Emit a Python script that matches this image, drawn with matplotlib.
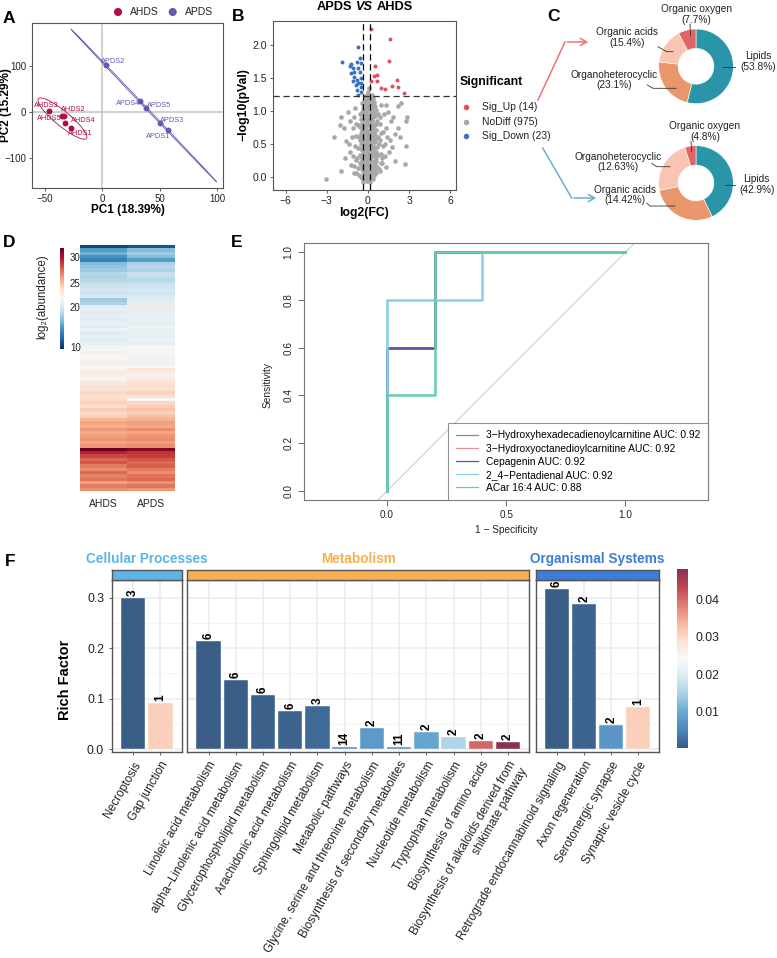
import numpy as np
import matplotlib
matplotlib.use('Agg')
import matplotlib.pyplot as plt
from matplotlib.colors import TwoSlopeNorm, Normalize, ListedColormap
from matplotlib.cm import ScalarMappable
from matplotlib.lines import Line2D

plt.rcParams['font.family'] = ['Liberation Sans', 'DejaVu Sans']
plt.rcParams['axes.unicode_minus'] = True

# ---------------- data ----------------
# A: PCA scores
ahds_names = ['AHDS1', 'AHDS2', 'AHDS3', 'AHDS4', 'AHDS5']
ahds_pc1 = [-27, -33, -46, -32, -35]
ahds_pc2 = [-35, -8, 3, -23, -9]
apds_names = ['APDS1', 'APDS2', 'APDS3', 'APDS4', 'APDS5']
apds_pc1 = [57, 3, 50, 32.5, 38.3]
apds_pc2 = [-40, 101, -23, 23, 9.4]

# B: volcano
up_x = [0.24, 1.61, 1.50, 0.48, 0.68, 0.24, 0.68, 2.14, 1.75, 0.97, 2.18, 2.63, 1.25, 0.45]
up_y = [2.25, 2.09, 1.76, 1.69, 1.55, 1.46, 1.46, 1.47, 1.38, 1.35, 1.37, 1.27, 1.33, 1.53]
down_x = [-0.69, -1.88, -1.27, -0.78, -0.54, -1.09, -0.69, -0.61, -0.98, -1.02, -0.78, -0.54,
          -0.69, -1.09, -0.49, -0.78, -0.54, -0.69, -1.33, -0.61, -1.22, -0.85, -0.49]
down_y = [1.97, 1.74, 1.71, 1.75, 1.73, 1.65, 1.66, 1.60, 1.59, 1.51, 1.47, 1.50,
          1.42, 1.45, 1.36, 1.32, 1.29, 1.25, 1.68, 1.80, 1.58, 1.40, 1.42]
nodiff = [
    (-3.09, -0.03), (-2.44, 0.61), (-1.99, 0.09), (-2.07, 0.79), (-1.97, 0.90), (2.72, 0.19),
    (2.86, 0.90), (2.79, 0.85), (2.79, 0.46), (2.43, 1.12), (2.19, 1.07), (0.97, 1.09),
    (1.34, 1.09), (1.46, 0.99), (2.19, 0.74), (2.31, 0.61), (1.34, 0.74), (1.69, 0.84),
    (1.57, 0.38), (1.21, 0.31), (1.94, 0.23), (-1.46, 0.99), (-1.75, 0.74), (-1.58, 0.54),
    (-1.34, 0.38), (-1.22, 0.18), (-1.68, 0.28), (-1.09, 0.74), (-0.98, 0.90),
    (0.9, 0.55), (1.1, 0.68), (1.25, 0.5), (0.85, 0.9), (1.05, 0.2), (1.4, 0.6), (0.95, 0.35),
    (1.6, 0.55), (1.15, 0.95), (0.8, 0.12), (1.3, 0.15), (1.75, 0.45), (2.0, 0.65), (1.85, 0.9),
    (-0.9, 0.8), (-1.15, 0.6), (-1.3, 0.85), (-0.85, 0.25), (-1.0, 0.05), (-1.4, 0.5), (-0.95, 1.05),
    (-0.62, 0.03), (-0.41, -0.02), (-0.28, 0.06), (-0.15, 0.01), (-0.05, -0.06), (0.07, 0.04),
    (0.18, -0.01), (0.31, 0.07), (0.44, 0.02), (0.12, -0.09), (-0.33, -0.08), (0.58, 0.05),
    (-0.9, 0.06), (0.85, 0.08), (-0.2, 0.1), (0.25, 0.11),
    (-1.05, 0.16), (-0.74, 0.13), (-0.52, 0.18), (-0.36, 0.14), (-0.22, 0.19), (-0.1, 0.15),
    (0.02, 0.2), (0.14, 0.16), (0.27, 0.21), (0.39, 0.14), (0.51, 0.19), (0.66, 0.15),
    (0.92, 0.2), (-0.45, 0.24), (0.08, 0.26),
    (-1.1, 0.31), (-0.83, 0.28), (-0.6, 0.33), (-0.44, 0.29), (-0.31, 0.35), (-0.18, 0.3),
    (-0.06, 0.34), (0.05, 0.29), (0.17, 0.36), (0.3, 0.31), (0.42, 0.35), (0.56, 0.28),
    (0.71, 0.33), (1.0, 0.29), (-0.25, 0.4), (0.23, 0.42),
    (-0.95, 0.46), (-0.7, 0.44), (-0.52, 0.49), (-0.39, 0.45), (-0.27, 0.5), (-0.13, 0.46),
    (-0.01, 0.51), (0.11, 0.45), (0.24, 0.5), (0.37, 0.47), (0.5, 0.52), (0.64, 0.45),
    (0.82, 0.5), (1.1, 0.47), (-0.58, 0.56), (0.31, 0.57),
    (-0.88, 0.62), (-0.63, 0.6), (-0.47, 0.64), (-0.34, 0.59), (-0.2, 0.63), (-0.08, 0.6),
    (0.04, 0.65), (0.16, 0.61), (0.29, 0.66), (0.41, 0.6), (0.55, 0.64), (0.73, 0.61),
    (0.95, 0.66), (-0.41, 0.7), (0.2, 0.72), (0.62, 0.71),
    (-0.75, 0.79), (-0.55, 0.76), (-0.4, 0.81), (-0.27, 0.77), (-0.14, 0.82), (-0.02, 0.78),
    (0.1, 0.83), (0.22, 0.77), (0.35, 0.82), (0.48, 0.79), (0.63, 0.84), (0.86, 0.8),
    (-0.3, 0.88), (0.15, 0.9), (0.5, 0.92),
    (-0.6, 0.96), (-0.45, 0.99), (-0.32, 0.94), (-0.19, 1.0), (-0.06, 0.96), (0.06, 1.01),
    (0.19, 0.95), (0.31, 1.0), (0.44, 0.97), (0.6, 1.02), (0.75, 0.95), (-0.38, 1.05), (0.25, 1.07),
    (-0.42, 1.12), (-0.3, 1.15), (-0.17, 1.1), (-0.04, 1.16), (0.09, 1.12), (0.2, 1.17),
    (0.33, 1.11), (0.46, 1.14), (-0.1, 1.2), (0.12, 1.22), (0.02, 1.29), (0.06, 1.35),
    (-0.35, 0.08), (-0.12, 0.12), (0.0, 0.05), (0.2, 0.07), (0.35, 0.16), (-0.25, 0.22),
    (-0.05, 0.25), (0.12, 0.3), (0.38, 0.24), (-0.38, 0.38), (-0.1, 0.4), (0.08, 0.38),
    (0.36, 0.4), (-0.2, 0.55), (0.0, 0.57), (0.18, 0.55), (0.45, 0.56), (-0.28, 0.68),
    (-0.05, 0.71), (0.1, 0.7), (0.33, 0.73), (-0.18, 0.87), (0.04, 0.88), (0.28, 0.86),
    (-0.12, 1.05), (0.1, 1.06), (0.38, 1.06), (-0.25, 1.22), (0.3, 1.24),
    (-0.5, 0.0), (-0.18, -0.04), (0.02, -0.02), (0.22, 0.02), (0.4, -0.04), (-0.42, 0.11),
    (-0.08, 0.08), (0.1, 0.1), (0.3, 0.12), (0.5, 0.1), (-0.55, 0.2), (-0.3, 0.17),
    (-0.15, 0.23), (0.0, 0.14), (0.2, 0.24), (0.45, 0.22), (0.6, 0.24), (-0.48, 0.31),
    (-0.22, 0.33), (0.0, 0.32), (0.26, 0.36), (0.48, 0.31), (-0.52, 0.42), (-0.32, 0.43),
    (-0.17, 0.38), (0.02, 0.44), (0.16, 0.41), (0.44, 0.43), (0.58, 0.38), (-0.45, 0.52),
    (-0.3, 0.55), (-0.1, 0.52), (0.1, 0.5), (0.27, 0.53), (0.38, 0.52), (0.55, 0.55),
    (-0.5, 0.67), (-0.36, 0.64), (-0.14, 0.66), (0.02, 0.62), (0.24, 0.63), (0.46, 0.67),
    (0.6, 0.6), (-0.46, 0.76), (-0.2, 0.75), (-0.05, 0.84), (0.17, 0.8), (0.4, 0.76),
    (0.56, 0.8), (-0.5, 0.88), (-0.24, 0.92), (-0.1, 0.9), (0.08, 0.94), (0.24, 0.92),
    (0.4, 0.9), (-0.42, 0.95), (-0.27, 1.03), (0.0, 1.04), (0.18, 1.02), (0.5, 1.08),
    (-0.35, 1.1), (-0.22, 1.14), (0.0, 1.1), (0.15, 1.12), (0.28, 1.16), (0.4, 1.2),
    (-0.05, 1.24), (0.2, 1.2),
]
fc_cut = [-0.37, 0.12]
p_cut = 1.23
sig_labels = ['Sig_Up (14)', 'NoDiff (975)', 'Sig_Down (23)']

# C: class composition
up_classes = ['Lipids', 'Organoheterocyclic', 'Organic acids', 'Organic oxygen']
up_share = [53.8, 23.1, 15.4, 7.7]
down_classes = ['Lipids', 'Organic acids', 'Organoheterocyclic', 'Organic oxygen']
down_share = [42.9, 29.0, 23.3, 4.8]

# D: heatmap log2(abundance)
hm_groups = ['AHDS', 'APDS']
hm_ahds = [10.5, 15, 16, 14.5, 13.5, 16.5, 17, 17.5, 18.5, 18,
           18.5, 19, 19.3, 19.6, 19.3, 20, 17.5, 18, 20.5, 21,
           20.5, 21, 20.5, 21, 20.5, 21.5, 20.5, 21, 20.5, 21,
           21.5, 22, 22.5, 22, 21.8, 22.5, 22, 22.3, 22.8, 22.5,
           22.2, 23, 23.5, 23.2, 24, 23.5, 23.8, 24.2, 23.6, 24.5,
           24, 24.3, 25.2, 25.8, 25.5, 26.2, 25.6, 26, 26.4, 25.8,
           26.3, 31.5, 29.5, 28.5, 27.5, 28, 27, 26.5, 27.5, 26.8,
           27.2, 26, 27, 26.5]
hm_apds = [11, 16.5, 17.5, 16.5, 15, 18, 18.5, 18, 19.2, 19,
           18.5, 19.2, 19.5, 19.8, 19.5, 20.2, 20.5, 21, 23, 21,
           21, 20.8, 21.2, 20.8, 21.3, 20.9, 21.2, 20.8, 21.4, 21,
           21.8, 22.2, 21.9, 22.4, 21.7, 22.5, 22, 23.2, 22.6, 22.4,
           23, 23.4, 23.8, 23.5, 24.2, 23.6, 22, 24, 24.4, 24.8,
           24.4, 25, 25.4, 26, 25.7, 26.5, 25.8, 26.3, 26.6, 26,
           26.5, 31, 29, 28.8, 28, 27.5, 27.8, 27, 26.5, 27.3,
           27.6, 26.4, 27.2, 26.2]

# E: ROC curves (1 - specificity, sensitivity)
roc_names = ['3\u2212Hydroxyhexadecadienoylcarnitine', '3\u2212Hydroxyoctanedioylcarnitine',
             'Cepagenin', '2_4\u2212Pentadienal', 'ACar 16:4']
roc_auc = [0.92, 0.92, 0.92, 0.92, 0.88]
roc_fpr = [[0, 0, 0.2, 0.2, 1], [0, 0, 0.2, 0.2, 1], [0, 0, 0.2, 0.2, 1],
           [0, 0, 0.4, 0.4, 1], [0, 0, 0.2, 0.2, 1]]
roc_tpr = [[0, 0.6, 0.6, 1, 1], [0, 0.6, 0.6, 1, 1], [0, 0.6, 0.6, 1, 1],
           [0, 0.8, 0.8, 1, 1], [0, 0.4, 0.4, 1, 1]]

# F: KEGG enrichment
cell_terms = ['Necroptosis', 'Gap junction']
cell_rich = [0.300, 0.092]
cell_count = [3, 1]
cell_p = [0.0008, 0.031]
met_terms = ['Linoleic acid metabolism', 'alpha\u2212Linolenic acid metabolism',
             'Glycerophospholipid metabolism', 'Arachidonic acid metabolism',
             'Sphingolipid metabolism', 'Metabolic pathways',
             'Glycine, serine and threonine metabolism', 'Biosynthesis of secondary metabolites',
             'Nucleotide metabolism', 'Tryptophan metabolism', 'Biosynthesis of amino acids',
             'Biosynthesis of alkaloids derived from\nshikimate pathway']
met_rich = [0.214, 0.137, 0.1075, 0.0765, 0.0864, 0.0046, 0.042, 0.0052, 0.0349, 0.0244, 0.0164, 0.0139]
met_count = [6, 6, 6, 6, 3, 14, 2, 11, 2, 2, 2, 2]
met_p = [0.001, 0.001, 0.0012, 0.0015, 0.002, 0.0065, 0.008, 0.007, 0.0095, 0.0155, 0.0405, 0.0478]
org_terms = ['Retrograde endocannabinoid signaling', 'Axon regeneration',
             'Serotonergic synapse', 'Synaptic vesicle cycle']
org_rich = [0.317, 0.287, 0.048, 0.0838]
org_count = [6, 2, 2, 1]
org_p = [0.0008, 0.0015, 0.0075, 0.031]

# ---------------- figure ----------------
W, H = 777, 958
fig = plt.figure(figsize=(W / 100, H / 100), dpi=100)
TXT = '#222222'


def box(x0, y0, x1, y1):
    # pixel box (top-left origin) -> axes
    return fig.add_axes([x0 / W, 1 - y1 / H, (x1 - x0) / W, (y1 - y0) / H])


def conf_ellipse(x, y, k=3.03, n=200):
    pts = np.column_stack([x, y])
    c = pts.mean(axis=0)
    vals, vecs = np.linalg.eigh(np.cov(pts.T))
    t = np.linspace(0, 2 * np.pi, n)
    e = vecs @ (np.sqrt(np.clip(vals, 0, None))[:, None] * np.vstack([np.cos(t), np.sin(t)])) * k
    return c[0] + e[0], c[1] + e[1]


# ---- A: PCA ----
ax = box(32, 23, 223, 188)
ax.axhline(0, color='#C8C8C8', lw=1.2, zorder=0)
ax.axvline(0, color='#C8C8C8', lw=1.2, zorder=0)
col_ahds, col_apds = '#B0103F', '#6657B5'
ahds_off = [(6.8, -3.6), (6.5, 4.1), (-2.4, 3.4), (12.6, 1.4), (-9.1, -1.4)]
apds_off = [(-7.3, -4.1), (5.5, 3.1), (8.8, 1.4), (-8.5, -1.9), (9.4, 1.2)]
for names, xs, ys, col, offs in [(ahds_names, ahds_pc1, ahds_pc2, col_ahds, ahds_off),
                                 (apds_names, apds_pc1, apds_pc2, col_apds, apds_off)]:
    ex, ey = conf_ellipse(xs, ys)
    ax.plot(ex, ey, color=col, lw=0.6)
    ax.scatter(xs, ys, s=18, color=col, zorder=3, lw=0)
    for nm, x, y, o in zip(names, xs, ys, offs):
        ax.annotate(nm, (x, y), xytext=o, textcoords='offset points', ha='center', va='center',
                    fontsize=5.3, color=col)
ax.set_xlim(-61, 105)
ax.set_ylim(-165, 193)
ax.set_xticks([-50, 0, 50, 100])
ax.set_yticks([-100, 0, 100])
ax.tick_params(labelsize=7, colors='#444444', labelcolor=TXT, length=2.5, width=0.6, pad=1.5)
for s in ax.spines.values():
    s.set_color('#555555')
    s.set_linewidth(0.8)

# ---- B: volcano ----
ax = box(273.3, 21, 455.7, 189.7)
nd = np.array(nodiff).T
ax.scatter(nd[0], nd[1], s=11, color='#A8A8A8', lw=0)
ax.scatter(up_x, up_y, s=8, color='#E2505C', lw=0)
ax.scatter(down_x, down_y, s=8, color='#3A72C0', lw=0)
for v in fc_cut:
    ax.axvline(v, color='black', lw=0.9, ls=(0, (5, 3)))
ax.axhline(p_cut, color='#333333', lw=0.9, ls=(0, (5, 3)))
ax.set_xlim(-6.9, 6.4)
ax.set_ylim(-0.2, 2.37)
ax.set_xticks([-6, -3, 0, 3, 6])
ax.set_yticks([0, 0.5, 1.0, 1.5, 2.0])
ax.tick_params(labelsize=7.5, colors='#444444', labelcolor=TXT, length=2.5, width=0.6, pad=2)
for s in ax.spines.values():
    s.set_color('#555555')
    s.set_linewidth(0.8)

# ---- C: donuts ----
donut_cols = ['#2A94A8', '#E8976C', '#F8C5B2', '#E46466']
for cy, share in [(66.3, up_share), (183, down_share)]:
    axd = box(696 - 37.3, cy - 37.3, 696 + 37.3, cy + 37.3)
    axd.pie(share, colors=donut_cols, startangle=90, counterclock=False, radius=1,
            wedgeprops=dict(width=0.52, edgecolor='white', linewidth=0.4))
    axd.set_xlim(-1, 1)
    axd.set_ylim(-1, 1)

# ---- D: heatmap ----
axh = box(80, 245, 175, 491)
hm_norm = TwoSlopeNorm(vmin=9.4, vcenter=22, vmax=31.7)
axh.imshow(np.column_stack([hm_ahds, hm_apds]), aspect='auto', cmap='RdBu_r', norm=hm_norm,
           interpolation='nearest')
axh.set_xticks([0, 1])
axh.set_xticklabels(hm_groups, fontsize=7.5, color=TXT)
axh.set_yticks([])
axh.tick_params(length=0, pad=6)
for s in axh.spines.values():
    s.set_visible(False)
cax = box(60, 248, 64.3, 349)
cb = fig.colorbar(ScalarMappable(norm=hm_norm, cmap='RdBu_r'), cax=cax, ticks=[10, 20, 25, 30])
cb.outline.set_visible(False)
cax.tick_params(labelsize=7, length=2, color='white', labelcolor=TXT, pad=2)

# ---- E: ROC ----
axe = box(303.7, 242.7, 708, 500)
roc_cols = ['#8C8C8C', '#F0909A', '#5E50A8', '#87CEEB', '#66CDAA']
axe.axline((0, 0), (1, 1), color='#C8C8C8', lw=0.7)
for fx, ty, c in zip(roc_fpr, roc_tpr, roc_cols):
    axe.plot(fx, ty, color=c, lw=1.8)
axe.set_xlim(-0.35, 1.347)
axe.set_ylim(-0.038, 1.04)
axe.set_xticks([0, 0.5, 1.0])
axe.set_yticks([0, 0.2, 0.4, 0.6, 0.8, 1.0])
axe.set_yticklabels(['0.0', '0.2', '0.4', '0.6', '0.8', '1.0'], rotation=90, va='center')
axe.tick_params(labelsize=7.2, colors='#555555', labelcolor=TXT, length=4, width=0.6)
for s in axe.spines.values():
    s.set_color('#777777')
    s.set_linewidth(0.8)
handles = [Line2D([], [], color=c, lw=0.9) for c in roc_cols]
leg = axe.legend(handles, [f'{n} AUC: {a:.2f}' for n, a in zip(roc_names, roc_auc)],
                 loc='lower right', bbox_to_anchor=(1, 0), borderaxespad=0, fontsize=7.4,
                 frameon=True, fancybox=False, edgecolor='#777777', handlelength=2.2,
                 labelspacing=0.3, borderpad=0.7)
leg.get_frame().set_linewidth(0.8)

# ---- F: enrichment ----
base = plt.get_cmap('RdBu_r')(np.linspace(0, 1, 256))
base[:, :3] = base[:, :3] * 0.8 + 0.2
rich_cmap = ListedColormap(base)
p_norm = Normalize(vmin=0.0003, vmax=0.048)
facets = [
    ('Cellular Processes', '#5DB5E6', cell_terms, cell_rich, cell_count, cell_p, 111.7, 181.7),
    ('Metabolism', '#F9AE50', met_terms, met_rich, met_count, met_p, 187.3, 529.3),
    ('Organismal Systems', '#3B7DD8', org_terms, org_rich, org_count, org_p, 536, 659.3),
]
for k, (title, scol, terms, rich, cnt, pv, x0, x1) in enumerate(facets):
    axf = box(x0, 580, x1, 752.3)
    n = len(terms)
    pos = np.arange(n)
    axf.set_axisbelow(True)
    axf.bar(pos, rich, width=0.9, color=rich_cmap(p_norm(np.array(pv))), edgecolor='white', lw=0.3)
    for i, (r, c) in enumerate(zip(rich, cnt)):
        axf.text(i, r + 0.004, str(c), rotation=90, ha='center', va='bottom',
                 fontsize=8.5, fontweight='bold', color='black')
    axf.set_xlim(-0.78, n - 0.22)
    axf.set_ylim(-0.006, 0.335)
    axf.set_yticks([0, 0.1, 0.2, 0.3])
    axf.set_yticks([0.05, 0.15, 0.25], minor=True)
    axf.grid(True, which='major', color='#EBEBEB', lw=1.1)
    axf.grid(True, which='minor', axis='y', color='#F2F2F2', lw=0.6)
    axf.set_xticks(pos)
    axf.set_xticklabels(terms, rotation=60, ha='right', va='top', rotation_mode='anchor',
                        fontsize=8.6, color=TXT)
    axf.tick_params(axis='x', length=2, width=0.6, color='#444444', pad=3)
    axf.tick_params(axis='y', which='minor', length=0)
    if k == 0:
        axf.set_yticklabels(['0.0', '0.1', '0.2', '0.3'])
        axf.tick_params(axis='y', labelsize=8.8, labelcolor=TXT, length=2, width=0.6, color='#444444')
    else:
        axf.tick_params(axis='y', labelleft=False, length=0)
    for s in axf.spines.values():
        s.set_color('#555555')
        s.set_linewidth(1.0)
    st = box(x0, 570, x1, 580)
    st.set_facecolor(scol)
    st.set_xticks([])
    st.set_yticks([])
    for s in st.spines.values():
        s.set_color('#555555')
        s.set_linewidth(1.0)
    fig.text(((x0 + x1) / 2) / W, 1 - 559 / H, title, ha='center', va='center',
             fontsize=9.8, fontweight='bold', color=scol)

cfx = box(676.7, 569.3, 688.3, 748.3)
cbf = fig.colorbar(ScalarMappable(norm=p_norm, cmap=rich_cmap), cax=cfx,
                   ticks=[0.01, 0.02, 0.03, 0.04])
cbf.outline.set_visible(False)
cfx.set_yticklabels(['0.01', '0.02', '0.03', '0.04'])
cfx.tick_params(labelsize=8.8, length=2.5, color='white', labelcolor=TXT, pad=3)

# ---- overlay: panel letters, titles, legends, annotations ----
ov = fig.add_axes([0, 0, 1, 1])
ov.set_xlim(0, W)
ov.set_ylim(H, 0)
ov.axis('off')

for lab, x, y in [('A', 9, 18), ('B', 238, 16), ('C', 554, 16), ('D', 9, 242), ('E', 237, 242), ('F', 10, 562)]:
    ov.text(x, y, lab, fontsize=12.5, fontweight='bold', ha='center', va='center')

# A legend + labels
ov.scatter([118, 172.7], [12, 12], s=34, color=[col_ahds, col_apds], lw=0)
ov.text(130, 12, 'AHDS', fontsize=7.5, va='center', color=TXT)
ov.text(184.5, 12, 'APDS', fontsize=7.5, va='center', color=TXT)
ov.text(127.5, 210, 'PC1 (18.39%)', fontsize=8.5, fontweight='bold', ha='center', va='center')
ov.text(6.5, 105, 'PC2 (15.29%)', fontsize=8.5, fontweight='bold', ha='center', va='center', rotation=90)

# B title (mixed bold / bold-italic), labels, legend
renderer = fig.canvas.get_renderer()
parts = [ov.text(0, 7, 'APDS', fontsize=9.2, fontweight='bold', va='center'),
         ov.text(0, 7, 'VS', fontsize=9.2, fontweight='bold', fontstyle='italic', va='center'),
         ov.text(0, 7, 'AHDS', fontsize=9.2, fontweight='bold', va='center')]
gap = 3.5
widths = [p.get_window_extent(renderer).width for p in parts]
xc = 365 - (sum(widths) + gap * 2) / 2
for p, w in zip(parts, widths):
    p.set_x(xc)
    xc += w + gap
ov.text(364.5, 213, 'log2(FC)', fontsize=8.8, fontweight='bold', ha='center', va='center')
ov.text(243, 105, '\u2212log10(pVal)', fontsize=8.8, fontweight='bold', ha='center', va='center', rotation=90)
ov.text(460, 82, 'Significant', fontsize=8.8, fontweight='bold', va='center')
for yy, c, t in zip([107, 121.5, 136], ['#E2505C', '#A8A8A8', '#3A72C0'], sig_labels):
    ov.scatter([466], [yy], s=16, color=c, lw=0)
    ov.text(481.5, yy, t, fontsize=7.5, va='center', color=TXT)

# C arrows
ov.plot([538, 565], [100, 42], color='#F07070', lw=1.1)
ov.annotate('', xy=(591, 42), xytext=(564.5, 42),
            arrowprops=dict(arrowstyle='->,head_length=0.45,head_width=0.25', color='#F07070', lw=1.1))
ov.plot([542.7, 571.7], [148, 198], color='#6AAED6', lw=1.1)
ov.annotate('', xy=(599, 198), xytext=(571.2, 198),
            arrowprops=dict(arrowstyle='->,head_length=0.45,head_width=0.25', color='#6AAED6', lw=1.1))

# C labels and leader lines
lk = dict(fontsize=7.3, ha='center', va='center', color=TXT, linespacing=1.05)
ov.text(696.7, 14.5, 'Organic oxygen\n(7.7%)', **lk)
ov.text(627.3, 37.5, 'Organic acids\n(15.4%)', **lk)
ov.text(614, 80, 'Organoheterocyclic\n(23.1%)', **lk)
ov.text(758, 61.5, 'Lipids\n(53.8%)', **lk)
ov.text(705, 131.5, 'Organic oxygen\n(4.8%)', **lk)
ov.text(618.3, 162, 'Organoheterocyclic\n(12.63%)', **lk)
ov.text(625, 195, 'Organic acids\n(14.42%)', **lk)
ov.text(756.7, 184.5, 'Lipids\n(42.9%)', **lk)
ldr = dict(color='#333333', lw=0.6)
ov.plot([690, 690.5], [24, 36], **ldr)
ov.plot([658, 666.7, 673], [46.7, 51.7, 51.7], **ldr)
ov.plot([647.3, 653, 676], [85, 88.3, 88.3], **ldr)
ov.plot([723, 735], [66.5, 66.5], **ldr)
ov.plot([691, 691.7], [141.7, 151.7], **ldr)
ov.plot([651.7, 656.7, 670], [163.3, 166.7, 166.7], **ldr)
ov.plot([646.7, 650, 675], [203, 206, 206], **ldr)
ov.plot([725, 735], [185, 185], **ldr)

# D label
ov.text(42, 297, 'log\u2082(abundance)', fontsize=8.3, ha='center', va='center', rotation=90, color=TXT)

# E labels
ov.text(506, 530, '1 \u2212 Specificity', fontsize=7.3, ha='center', va='center', color=TXT)
ov.text(268, 385, 'Sensitivity', fontsize=7.3, ha='center', va='center', rotation=90, color=TXT)

# F label
ov.text(65, 680, 'Rich Factor', fontsize=10.5, fontweight='bold', ha='center', va='center', rotation=90)

fig.savefig('out.png', dpi=100)
